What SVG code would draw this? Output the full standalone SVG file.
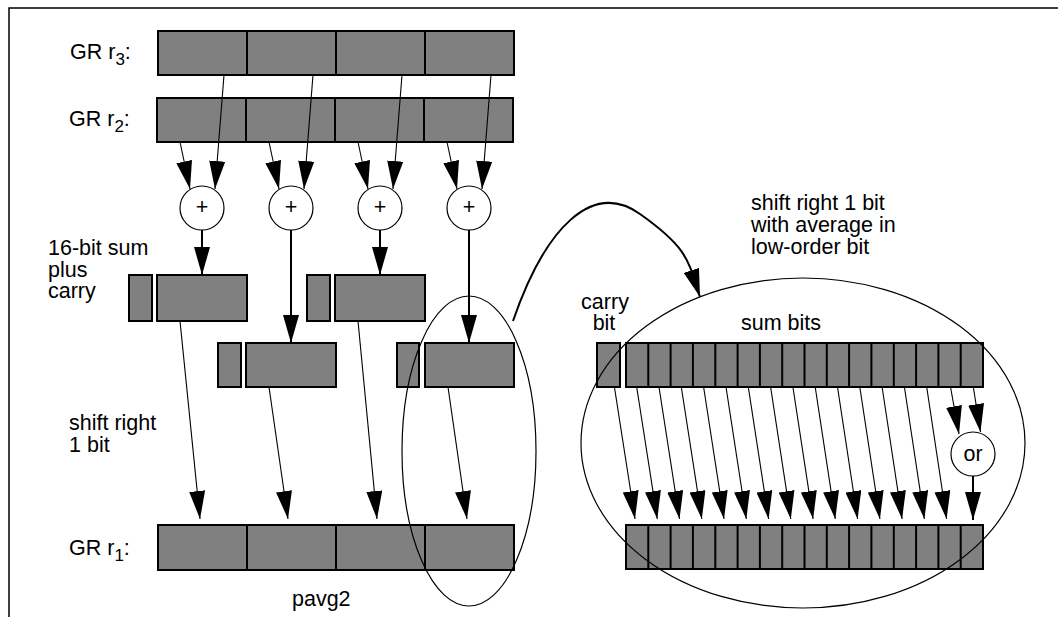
<svg xmlns="http://www.w3.org/2000/svg" width="1058" height="617" viewBox="0 0 1058 617">
<style>
text{font-family:"Liberation Sans",Arial,Helvetica,sans-serif;font-size:21.5px;fill:#000}
.reg{fill:#808080;stroke:#000;stroke-width:2}
.div{fill:none;stroke:#000;stroke-width:2}
.op{fill:#fff;stroke:#000;stroke-width:1.2}
.thin{fill:none;stroke:#000;stroke-width:1.1;marker-end:url(#ah)}
.thick{fill:none;stroke:#000;stroke-width:2;marker-end:url(#ah)}
.oval{fill:none;stroke:#000;stroke-width:1.2}
.sub{font-size:17px}
.mid{text-anchor:middle}
</style>
<defs>
<marker id="ah" markerUnits="userSpaceOnUse" viewBox="0 0 28 16" markerWidth="28" markerHeight="16" refX="28" refY="8" orient="auto">
<path d="M0,0 L28,8 L0,16 z" fill="#000"/>
</marker>
</defs>
<rect width="1058" height="617" fill="#fff"/>
<path d="M9,617 V8 H1058" fill="none" stroke="#000" stroke-width="1.5"/>

<g id="gr3">
<text x="70" y="59">GR r<tspan class="sub" dy="6">3</tspan><tspan dy="-6">:</tspan></text>
<rect class="reg" x="158" y="31" width="356" height="44"/>
<path class="div" d="M247,31V75M336,31V75M425,31V75"/>
</g>
<g id="gr2">
<text x="69" y="126">GR r<tspan class="sub" dy="6">2</tspan><tspan dy="-6">:</tspan></text>
<rect class="reg" x="157" y="98" width="356" height="44"/>
<path class="div" d="M246,98V142M335,98V142M424,98V142"/>
</g>
<g id="gr1">
<text x="69" y="555">GR r<tspan class="sub" dy="6">1</tspan><tspan dy="-6">:</tspan></text>
<rect class="reg" x="158" y="525" width="356" height="45"/>
<path class="div" d="M247,525V570M336,525V570M425,525V570"/>
</g>

<g id="add1"><circle class="op" cx="202" cy="208" r="22"/><text class="mid" x="202" y="214" font-size="18">+</text></g>
<g id="add2"><circle class="op" cx="291" cy="208" r="22"/><text class="mid" x="291" y="214" font-size="18">+</text></g>
<g id="add3"><circle class="op" cx="380" cy="208" r="22"/><text class="mid" x="380" y="214" font-size="18">+</text></g>
<g id="add4"><circle class="op" cx="469" cy="208" r="22"/><text class="mid" x="469" y="214" font-size="18">+</text></g>

<g id="sum-label">
<text x="48" y="255">16-bit sum</text>
<text x="48" y="276.5">plus</text>
<text x="48" y="298">carry</text>
</g>
<g id="sum1"><rect class="reg" x="129" y="275" width="23" height="46"/><rect class="reg" x="157" y="275" width="90" height="46"/></g>
<g id="sum2"><rect class="reg" x="218" y="343" width="23" height="44"/><rect class="reg" x="246" y="343" width="90" height="44"/></g>
<g id="sum3"><rect class="reg" x="307" y="275" width="23" height="46"/><rect class="reg" x="335" y="275" width="90" height="46"/></g>
<g id="sum4"><rect class="reg" x="397" y="343" width="22" height="44"/><rect class="reg" x="425" y="343" width="89" height="44"/></g>

<g id="shift-label">
<text x="69" y="430">shift right</text>
<text x="69" y="452">1 bit</text>
</g>
<g id="pavg2-label"><text x="292" y="606">pavg2</text></g>

<g id="avg-label">
<text x="751" y="210">shift right 1 bit</text>
<text x="751" y="232">with average in</text>
<text x="751" y="254">low-order bit</text>
</g>
<g id="carry-label">
<text class="mid" x="605" y="309">carry</text>
<text class="mid" x="604" y="330">bit</text>
</g>
<g id="sumbits-label"><text class="mid" x="781" y="330">sum bits</text></g>

<g id="carrybit"><rect class="reg" x="597" y="343" width="23" height="44"/></g>
<g id="sumbits">
<rect class="reg" x="626" y="343" width="357" height="44"/>
<path class="div" d="M648.3,343V387M670.6,343V387M692.9,343V387M715.3,343V387M737.6,343V387M759.9,343V387M782.2,343V387M804.5,343V387M826.8,343V387M849.1,343V387M871.4,343V387M893.8,343V387M916.1,343V387M938.4,343V387M960.7,343V387"/>
</g>
<g id="result">
<rect class="reg" x="626" y="525" width="357" height="44"/>
<path class="div" d="M648.3,525V569M670.6,525V569M692.9,525V569M715.3,525V569M737.6,525V569M759.9,525V569M782.2,525V569M804.5,525V569M826.8,525V569M849.1,525V569M871.4,525V569M893.8,525V569M916.1,525V569M938.4,525V569M960.7,525V569"/>
</g>
<g id="or"><circle class="op" cx="973" cy="454" r="22"/><text class="mid" x="973" y="461">or</text></g>

<g id="connectors">
<path class="thin" d="M180,142L190,189"/>
<path class="thin" d="M224,75L215,189"/>
<path class="thin" d="M269,142L279,189"/>
<path class="thin" d="M313,75L304,189"/>
<path class="thin" d="M358,142L368,189"/>
<path class="thin" d="M402,75L393,189"/>
<path class="thin" d="M447,142L457,189"/>
<path class="thin" d="M491,75L482,189"/>

<path class="thick" d="M202,230V275"/>
<path class="thick" d="M291,230V343"/>
<path class="thick" d="M380,230V275"/>
<path class="thick" d="M469,230V343"/>

<path class="thin" d="M180,321L200,519"/>
<path class="thin" d="M269,387L288,519"/>
<path class="thin" d="M358,321L377,519"/>
<path class="thin" d="M448,387L467,519"/>

<path class="thick" stroke-width="2.4" d="M513,321C545,228 592,180 640,214S688,260 700,297"/>

<path class="thin" d="M614.4,387L635,519"/>
<path class="thin" d="M636.7,387L657.3,519"/>
<path class="thin" d="M659,387L679.5,519"/>
<path class="thin" d="M681.3,387L701.8,519"/>
<path class="thin" d="M703.6,387L724,519"/>
<path class="thin" d="M726,387L746.3,519"/>
<path class="thin" d="M748.3,387L768.6,519"/>
<path class="thin" d="M770.6,387L790.8,519"/>
<path class="thin" d="M792.9,387L813.1,519"/>
<path class="thin" d="M815.2,387L835.3,519"/>
<path class="thin" d="M837.5,387L857.6,519"/>
<path class="thin" d="M859.8,387L879.9,519"/>
<path class="thin" d="M882.1,387L902.1,519"/>
<path class="thin" d="M904.4,387L924.4,519"/>
<path class="thin" d="M926.7,387L946.6,519"/>

<path class="thin" d="M950.5,387L959,434"/>
<path class="thin" d="M973.3,387L980.5,432"/>
<path class="thick" d="M973,476V520"/>
</g>

<g id="highlights">
<ellipse class="oval" cx="469" cy="451" rx="67" ry="155"/>
<ellipse class="oval" cx="803" cy="443" rx="222" ry="165"/>
</g>
</svg>
